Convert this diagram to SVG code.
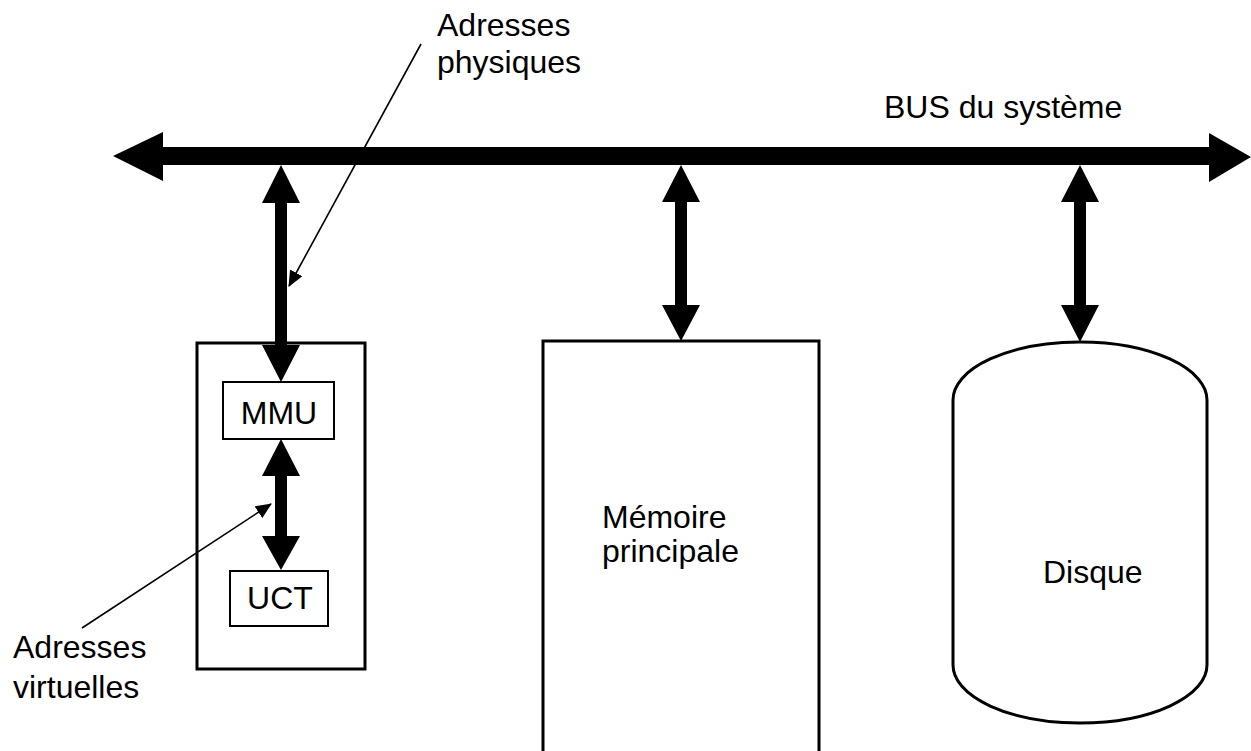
<svg xmlns="http://www.w3.org/2000/svg" width="1251" height="751" viewBox="0 0 1251 751">
<style>
text{font-family:"Liberation Sans",Arial,sans-serif;font-size:32px;fill:#000}
.box{fill:#fff;stroke:#000;stroke-width:3}
.small{fill:#fff;stroke:#000;stroke-width:2}
.thick{fill:#000;stroke:none}
.lead{stroke:#000;stroke-width:1.6;fill:none}
</style>
<defs>
<marker id="ah" markerWidth="10" markerHeight="10" refX="9" refY="5" orient="auto" markerUnits="userSpaceOnUse" viewBox="0 0 10 10">
<path d="M0,0 L10,5 L0,10 Z" fill="#000"/>
</marker>
<marker id="ahL" markerWidth="16" markerHeight="14" refX="15" refY="7" orient="auto" markerUnits="userSpaceOnUse" viewBox="0 0 16 14">
<path d="M0,0 L16,7 L0,14 Z" fill="#000"/>
</marker>
</defs>
<rect width="1251" height="751" fill="#fff"/>
<g id="cpu">
<rect class="box" x="197" y="343" width="168" height="326"/>
</g>
<g id="mmu">
<rect class="small" x="223" y="382" width="111" height="57"/>
<text x="279" y="424" text-anchor="middle">MMU</text>
</g>
<g id="uct">
<rect class="small" x="230" y="571" width="98" height="55"/>
<text x="280" y="609" text-anchor="middle">UCT</text>
</g>
<g id="memoire">
<rect class="box" x="543" y="341" width="276" height="420"/>
<text x="602" y="528">Mémoire</text>
<text x="602" y="562">principale</text>
</g>
<g id="disque">
<path class="box" d="M953,400 A127,58 0 0 1 1207,400 L1207,665 A127,58 0 0 1 953,665 Z"/>
<text x="1043" y="583">Disque</text>
</g>
<g id="bus">
<polygon class="thick" points="113,156 163,132 163,147 1209,147 1209,133 1251,157 1209,182 1209,165 163,165 163,181"/>
<text x="884" y="118">BUS du système</text>
</g>
<g id="connectors">
<polygon class="thick" points="281,165 300,203 287,203 287,345 300,345 281,382 262,345 275,345 275,203 262,203"/>
<polygon class="thick" points="281,439 300,476 287,476 287,536 300,536 281,570 262,536 275,536 275,476 262,476"/>
<polygon class="thick" points="681,165 700,202 687,202 687,305 700,305 681,341 662,305 675,305 675,202 662,202"/>
<polygon class="thick" points="1080,165 1099,202 1086,202 1086,305 1099,305 1080,342 1061,305 1074,305 1074,202 1061,202"/>
<line class="lead" x1="421" y1="44" x2="289" y2="286" marker-end="url(#ahL)"/>
<line class="lead" x1="82" y1="628" x2="271" y2="504" marker-end="url(#ahL)"/>
</g>
<g id="labels">
<text x="437" y="36">Adresses</text>
<text x="437" y="73">physiques</text>
<text x="13" y="658">Adresses</text>
<text x="13" y="698">virtuelles</text>
</g>
</svg>
